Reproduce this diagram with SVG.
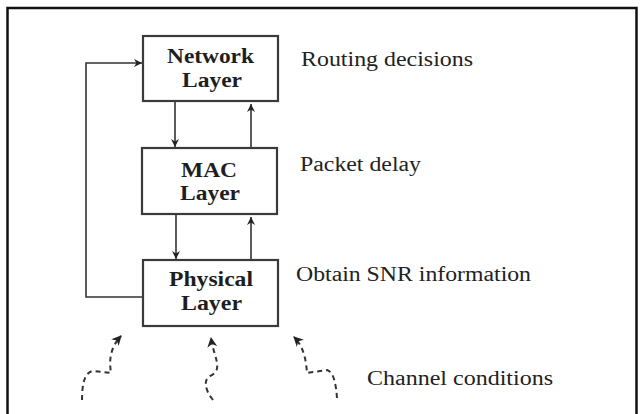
<svg xmlns="http://www.w3.org/2000/svg" width="642" height="414" viewBox="0 0 642 414">
<defs>
<style>
.box{fill:#fff;stroke:#3a3a3a;stroke-width:2.2}
.lbl{font-family:'Liberation Serif',serif;font-weight:bold;font-size:20px;fill:#1e1e1e}
.note{font-family:'Liberation Serif',serif;font-size:20px;fill:#222}
.ln{fill:none;stroke:#333;stroke-width:1.6}
.dash{fill:none;stroke:#333;stroke-width:2;stroke-dasharray:5 4}
</style>
<marker id="ah" viewBox="0 0 10 10" refX="10" refY="5" markerWidth="8" markerHeight="8" orient="auto" markerUnits="userSpaceOnUse">
<path d="M0,0 L10,5 L0,10 L3,5 z" fill="#222"/>
</marker>
<marker id="ahd" viewBox="0 0 10 10" refX="9" refY="5" markerWidth="10" markerHeight="10" orient="auto" markerUnits="userSpaceOnUse">
<path d="M0,0 L10,5 L0,10 L3,5 z" fill="#222"/>
</marker>
</defs>
<rect x="7.5" y="8" width="629" height="420" fill="none" stroke="#111" stroke-width="2.5"/>
<g id="connectors">
<line class="ln" x1="175" y1="102" x2="175" y2="147" marker-end="url(#ah)"/>
<line class="ln" x1="251" y1="148" x2="251" y2="104" marker-end="url(#ah)"/>
<line class="ln" x1="176" y1="214" x2="176" y2="259" marker-end="url(#ah)"/>
<line class="ln" x1="251" y1="260" x2="251" y2="217" marker-end="url(#ah)"/>
<path class="ln" d="M143 297 H86 V63 H142" marker-end="url(#ah)"/>
<path class="dash" d="M82 400 C82 386 84 372 93 371 L111 373 C109 360 110 348 121 336" marker-end="url(#ahd)"/>
<path class="dash" d="M213 400 C205 390 203 380 210 376 C224 370 214 358 211 338" marker-end="url(#ahd)"/>
<path class="dash" d="M337 398 C336 385 334 372 327 370 L307 373 C306 360 304 347 294 337" marker-end="url(#ahd)"/>
</g>
<g id="network">
<rect class="box" x="143" y="36" width="135" height="65"/>
<text class="lbl" x="167" y="63" textLength="87" lengthAdjust="spacingAndGlyphs">Network</text>
<text class="lbl" x="182" y="87" textLength="60" lengthAdjust="spacingAndGlyphs">Layer</text>
</g>
<g id="mac">
<rect class="box" x="142" y="148" width="135" height="66"/>
<text class="lbl" x="181" y="177" textLength="56" lengthAdjust="spacingAndGlyphs">MAC</text>
<text class="lbl" x="180" y="200" textLength="60" lengthAdjust="spacingAndGlyphs">Layer</text>
</g>
<g id="physical">
<rect class="box" x="143" y="260" width="135" height="66"/>
<text class="lbl" x="169" y="286" textLength="84" lengthAdjust="spacingAndGlyphs">Physical</text>
<text class="lbl" x="181" y="310" textLength="61" lengthAdjust="spacingAndGlyphs">Layer</text>
</g>
<g id="notes">
<text class="note" x="301" y="66" textLength="172" lengthAdjust="spacingAndGlyphs">Routing decisions</text>
<text class="note" x="300" y="171" textLength="121" lengthAdjust="spacingAndGlyphs">Packet delay</text>
<text class="note" x="296" y="281" textLength="235" lengthAdjust="spacingAndGlyphs">Obtain SNR information</text>
<text class="note" x="367" y="385" textLength="186" lengthAdjust="spacingAndGlyphs">Channel conditions</text>
</g>
</svg>
